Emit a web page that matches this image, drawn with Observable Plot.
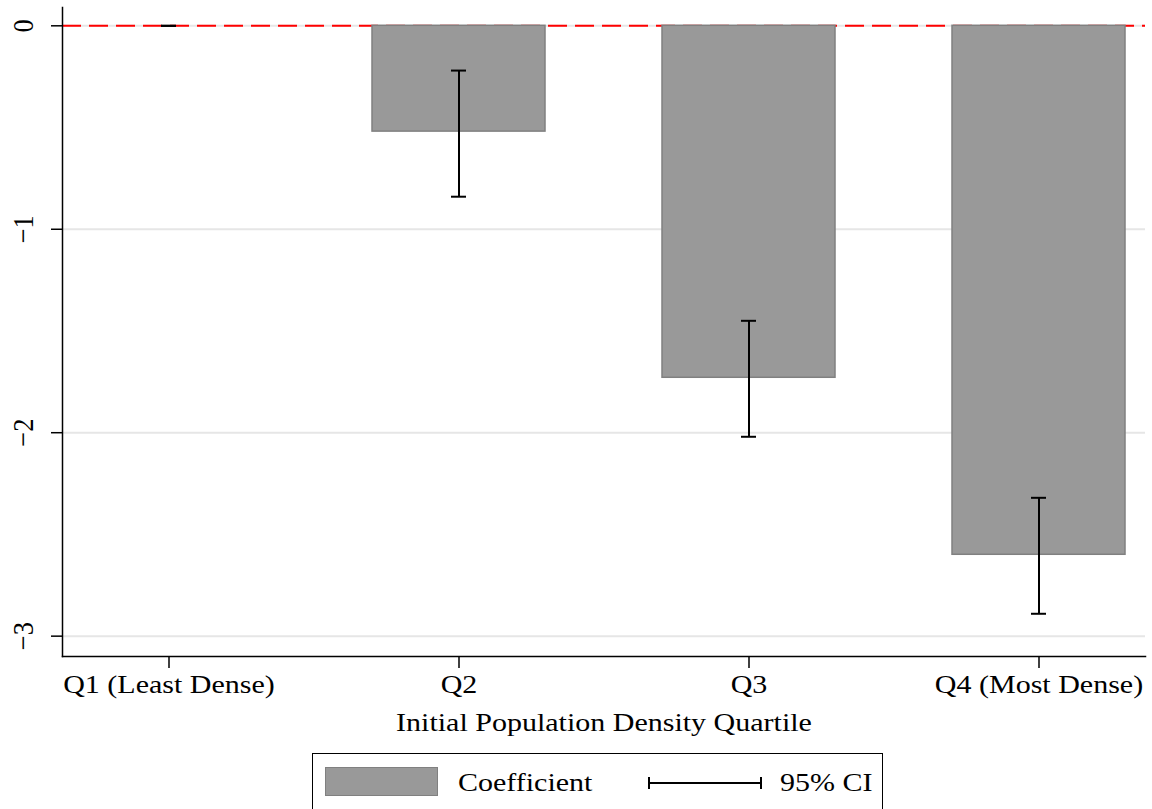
<!DOCTYPE html>
<html><head><meta charset="utf-8">
<script src="https://cdn.jsdelivr.net/npm/d3@7"></script>
<script src="https://cdn.jsdelivr.net/npm/@observablehq/plot@0.6"></script>
<style>
body{margin:0;background:#fff;font-family:"Liberation Serif","Times New Roman",serif;color:#000;}
#legend{position:relative;margin-left:312px;margin-top:3px;width:571px;height:57px;border:1px solid #000;box-sizing:border-box;}
#legend .sw{position:absolute;left:12px;top:13px;width:113px;height:29px;background:#999999;border:1.5px solid #808080;box-sizing:border-box;}
#legend .lab{position:absolute;top:14px;font-size:25px;line-height:30px;transform:scaleX(1.2);transform-origin:left center;white-space:nowrap;}
#legend .ci{position:absolute;left:335px;top:28px;width:114px;height:2px;background:#000;}
#legend .ci:before,#legend .ci:after{content:"";position:absolute;top:-5px;width:2px;height:12px;background:#000;}
#legend .ci:before{left:0}
#legend .ci:after{right:0}
</style></head>
<body>
<div id="chart"></div>
<div id="legend"></div>
<script>
const categories = ["Q1 (Least Dense)", "Q2", "Q3", "Q4 (Most Dense)"];
const coefficients = [0, -0.52, -1.73, -2.60];
const ciLow = [0, -0.84, -2.02, -2.89];
const ciHigh = [0, -0.22, -1.45, -2.32];
const yTicks = [0, -1, -2, -3];
const xTitle = "Initial Population Density Quartile";
const legendLabels = ["Coefficient", "95% CI"];

const data = categories.map((q, i) => ({q, coef: coefficients[i], lo: ciLow[i], hi: ciHigh[i]}));

const chart = Plot.plot({
  width: 1152, height: 750,
  marginLeft: 62, marginRight: 7, marginTop: 7, marginBottom: 94,
  style: {fontFamily: "Liberation Serif, Times New Roman, serif", fontSize: "25px", color: "#000", background: "#fff"},
  x: {type: "band", domain: categories, paddingInner: 0.405, paddingOuter: 0.067, label: null},
  y: {domain: [-3.1, 0.09], label: null},
  marks: [
    Plot.gridY(yTicks, {stroke: "#e6e6e6", strokeOpacity: 1, strokeWidth: 2}),
    Plot.ruleY([0], {stroke: "#ff0000", strokeWidth: 2, strokeDasharray: "19,8"}),
    Plot.barY(data, {x: "q", y: "coef", fill: "#999999", stroke: "#808080", strokeWidth: 1.5}),
    Plot.ruleX(data, {x: "q", y1: "lo", y2: "hi", stroke: "#000", strokeWidth: 2}),
    Plot.tickY(data, {x: "q", y: "lo", stroke: "#000", strokeWidth: 2, inset: 79}),
    Plot.tickY(data, {x: "q", y: "hi", stroke: "#000", strokeWidth: 2, inset: 79}),
    Plot.frame({anchor: "left", stroke: "#000", strokeWidth: 1.5}),
    Plot.frame({anchor: "bottom", stroke: "#000", strokeWidth: 1.5}),
    Plot.axisY(yTicks, {tickSize: 11, tickPadding: 19, tickRotate: -90, tickFormat: d3.format("d"), fontSize: 30, strokeWidth: 1.5, label: null}),
    Plot.axisX({tickSize: 12, tickPadding: 7, strokeWidth: 1.5, label: xTitle, labelAnchor: "center", labelOffset: 74})
  ]
});
document.getElementById("chart").appendChild(chart);

function stretch(selector, f) {
  chart.querySelectorAll(selector).forEach(t => {
    const L = t.getComputedTextLength();
    t.setAttribute("textLength", L * f);
    t.setAttribute("lengthAdjust", "spacingAndGlyphs");
  });
}
stretch('[aria-label="x-axis tick label"] text', 1.2);
stretch('[aria-label="x-axis label"] text', 1.2);
stretch('[aria-label="y-axis tick label"] text', 0.88);

const lg = document.getElementById("legend");
lg.innerHTML = `<div class="sw"></div><div class="lab" style="left:145px">${legendLabels[0]}</div><div class="ci"></div><div class="lab" style="left:467px">${legendLabels[1]}</div>`;
</script>
</body></html>
